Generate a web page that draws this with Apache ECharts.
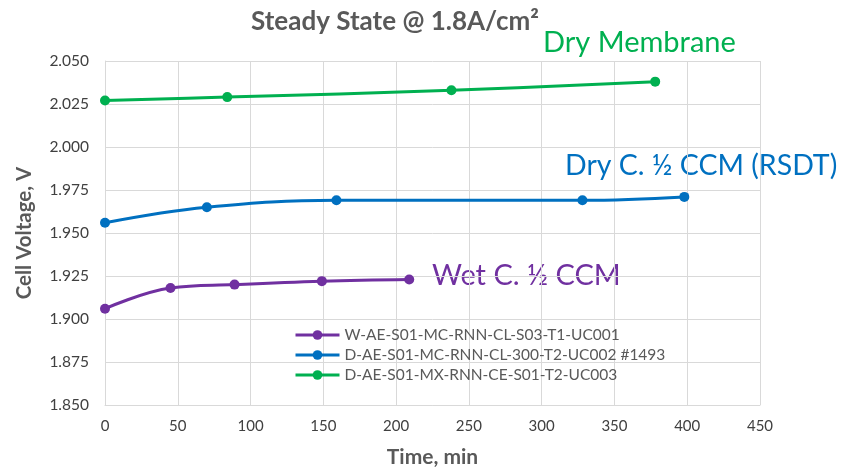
<!DOCTYPE html>
<html>
<head>
<meta charset="utf-8">
<script src="https://cdn.jsdelivr.net/npm/echarts@6/dist/echarts.min.js"></script>
<style>
  html, body { margin: 0; padding: 0; background: #fff; }
  #chart { width: 850px; height: 470px; }
</style>
</head>
<body>
<div id="chart"></div>
<script>
// series data: [time min, cell voltage V]
const wetName = "W-AE-S01-MC-RNN-CL-S03-T1-UC001";
const wetData = [[0, 1.906], [45, 1.918], [89, 1.920], [149, 1.922], [209, 1.923]];

const dryCcmName = "D-AE-S01-MC-RNN-CL-300-T2-UC002 #1493";
const dryCcmData = [[0, 1.956], [70, 1.965], [159, 1.969], [328, 1.969], [398, 1.971]];

const dryMemName = "D-AE-S01-MX-RNN-CE-S01-T2-UC003";
const dryMemData = [[0, 2.027], [84, 2.029], [238, 2.033], [378, 2.038]];

const colors = ["#7030A0", "#0070C0", "#00B050"];
const font = "Lato, 'Open Sans', sans-serif";

const chart = echarts.init(document.getElementById("chart"));

function line(name, data, color) {
  return {
    name: name,
    type: "line",
    data: data,
    smooth: 0.4,
    symbol: "circle",
    symbolSize: 10,
    color: color,
    lineStyle: { width: 3, color: color },
    itemStyle: { color: color }
  };
}

chart.setOption({
  animation: false,
  title: {
    text: "Steady State @ 1.8A/cm²",
    left: 390,
    textAlign: "center",
    top: 4,
    textStyle: { fontFamily: font, fontSize: 26, fontWeight: "bold", color: "#595959" }
  },
  grid: { left: 105, right: 90, top: 61, bottom: 65, outerBoundsMode: "none" },
  legend: {
    orient: "vertical",
    left: 289,
    top: 322,
    itemWidth: 44,
    itemHeight: 12,
    itemGap: 4,
    lineStyle: { width: 3 },
    textStyle: { fontFamily: font, fontSize: 15.5, color: "#595959" },
    data: [wetName, dryCcmName, dryMemName]
  },
  xAxis: {
    type: "value",
    min: 0,
    max: 450,
    interval: 50,
    name: "Time, min",
    nameLocation: "middle",
    nameGap: 42,
    nameTextStyle: { fontFamily: font, fontSize: 21, fontWeight: "bold", color: "#595959" },
    axisLine: { lineStyle: { color: "#d9d9d9" } },
    axisTick: { show: false },
    axisLabel: { fontFamily: font, fontSize: 15, color: "#404040", margin: 14 },
    splitLine: { lineStyle: { color: "#d9d9d9" } }
  },
  yAxis: {
    type: "value",
    min: 1.85,
    max: 2.05,
    interval: 0.025,
    name: "Cell Voltage, V",
    nameLocation: "middle",
    nameGap: 70,
    nameTextStyle: { fontFamily: font, fontSize: 20.5, fontWeight: "bold", color: "#595959" },
    axisLine: { show: true, lineStyle: { color: "#d9d9d9" } },
    axisTick: { show: false },
    axisLabel: {
      fontFamily: font, fontSize: 15.5, color: "#404040", margin: 16,
      formatter: v => v.toFixed(3)
    },
    splitLine: { lineStyle: { color: "#d9d9d9" } }
  },
  series: [
    line(wetName, wetData, colors[0]),
    line(dryCcmName, dryCcmData, colors[1]),
    line(dryMemName, dryMemData, colors[2])
  ],
  graphic: [
    { type: "text", left: 543, top: 28, style: { text: "Dry Membrane", fontFamily: font, fontSize: 29, fill: colors[2] } },
    { type: "text", left: 565, top: 151, style: { text: "Dry C. ½ CCM (RSDT)", fontFamily: font, fontSize: 28.5, fill: colors[1] } },
    { type: "text", left: 432, top: 261, style: { text: "Wet C. ½ CCM", fontFamily: font, fontSize: 29, fill: colors[0] } }
  ]
});
</script>
</body>
</html>
